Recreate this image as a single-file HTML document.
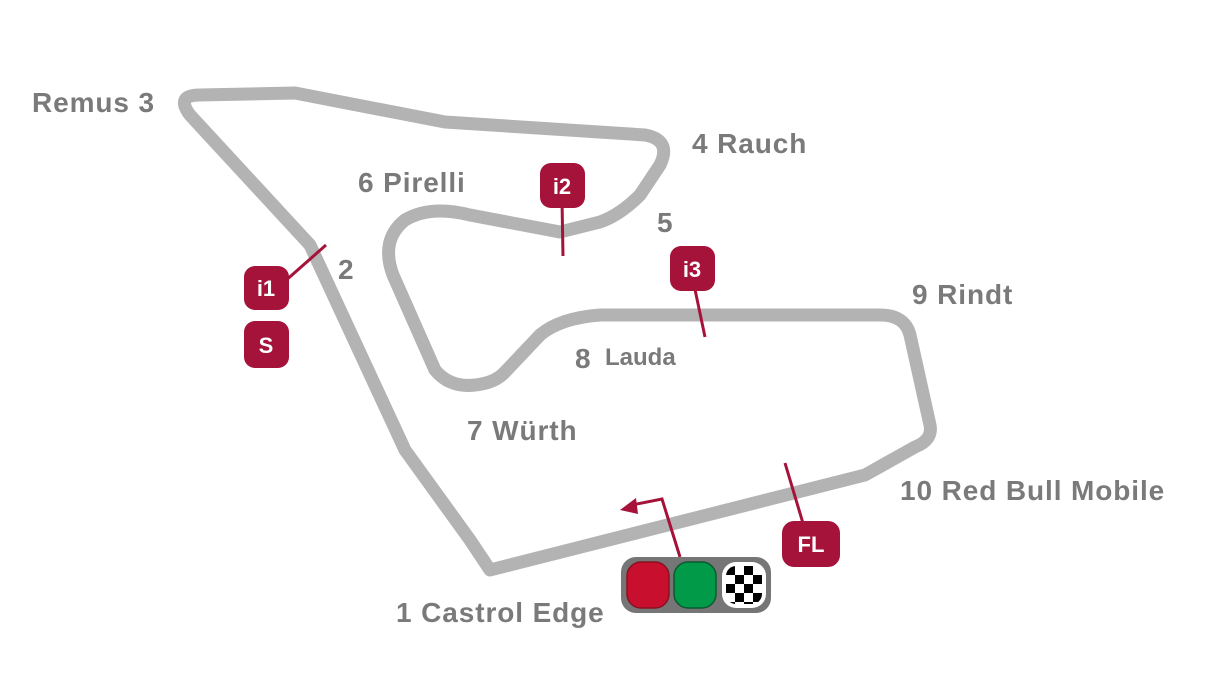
<!DOCTYPE html>
<html><head><meta charset="utf-8"><style>
html,body{margin:0;padding:0;background:#fff;width:1213px;height:688px;overflow:hidden}
svg{display:block}
.t{font-family:"Liberation Sans",sans-serif;font-size:28px;font-weight:bold;fill:#7a7a7a;letter-spacing:0.9px}
.b{font-family:"Liberation Sans",sans-serif;font-size:22px;font-weight:bold;fill:#fff;text-anchor:middle}
</style></head><body>
<svg width="1213" height="688" viewBox="0 0 1213 688">
<path d="M490,570 L470,540 L405,450 L310,245 L190,115 Q175,95 200,95 L295,93 L445,122 L645,135 Q672,140 660,165 L640,195 Q620,215 600,222 L560,232 L470,215 Q430,205 405,220 Q380,240 393,275 L435,370 Q450,388 475,385 Q495,383 505,372 L540,335 Q560,318 600,315 L880,315 Q905,315 910,335 L930,425 Q933,440 915,447 L865,475 Z" fill="none" stroke="#b4b3b3" stroke-width="13" stroke-linejoin="round"/>
<g stroke="#a5123a" stroke-width="3" fill="none">
<line x1="562" y1="200" x2="563" y2="256"/>
<line x1="693" y1="280" x2="705" y2="337"/>
<line x1="275" y1="290" x2="326" y2="245"/>
<line x1="785" y1="463" x2="805" y2="530"/>
<polyline points="680,557 662,499 632,505"/>
</g>
<polygon points="620,510 636,498 638,514" fill="#a5123a"/>
<g fill="#a5123a">
<rect x="540" y="163" width="45" height="45" rx="11"/>
<rect x="670" y="246" width="45" height="45" rx="11"/>
<rect x="244" y="266" width="45" height="44" rx="11"/>
<rect x="244" y="321" width="45" height="47" rx="11"/>
<rect x="782" y="521" width="58" height="46" rx="12"/>
</g>
<text class="b" x="562" y="194">i2</text>
<text class="b" x="692" y="277">i3</text>
<text class="b" x="266" y="296">i1</text>
<text class="b" x="266" y="353">S</text>
<text class="b" x="811" y="552">FL</text>
<rect x="621" y="557" width="150" height="56" rx="15" fill="#767676"/>
<rect x="627" y="562" width="42" height="46" rx="14" fill="#c8102e" stroke="#8a1020" stroke-width="1.5"/>
<rect x="674" y="562" width="42" height="46" rx="14" fill="#009a49" stroke="#0a5a2e" stroke-width="1.5"/>
<defs><pattern id="ck" width="18" height="18" patternUnits="userSpaceOnUse" x="726" y="566"><rect width="18" height="18" fill="#fff"/><rect width="9" height="9" fill="#000"/><rect x="9" y="9" width="9" height="9" fill="#000"/></pattern></defs>
<rect x="722" y="562" width="44" height="46" rx="14" fill="#fff"/>
<rect x="726" y="566" width="36" height="38" rx="10" fill="url(#ck)"/>
<text class="t" x="32" y="112">Remus 3</text>
<text class="t" x="692" y="153">4 Rauch</text>
<text class="t" x="358" y="192">6 Pirelli</text>
<text class="t" x="657" y="232">5</text>
<text class="t" x="338" y="279">2</text>
<text class="t" x="912" y="304">9 Rindt</text>
<text class="t" x="575" y="368">8</text>
<text x="605" y="365" style="font-family:'Liberation Sans',sans-serif;font-size:24px;font-weight:bold;fill:#7a7a7a">Lauda</text>
<text class="t" x="467" y="440">7 Würth</text>
<text class="t" x="900" y="500">10 Red Bull Mobile</text>
<text class="t" x="396" y="622">1 Castrol Edge</text>
</svg>
</body></html>
